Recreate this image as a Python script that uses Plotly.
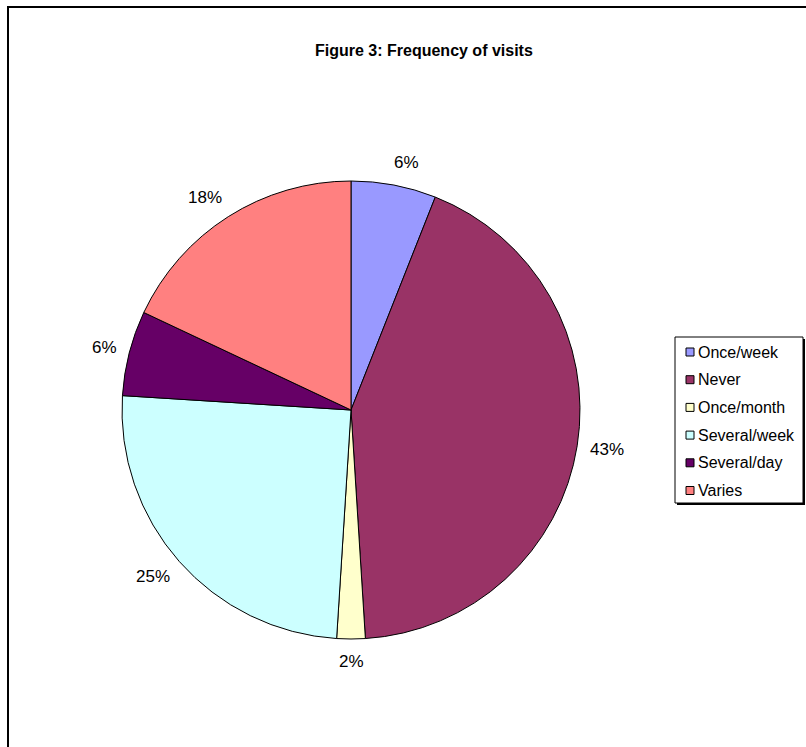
import math
import plotly.graph_objects as go

# Survey results: how often respondents visit
categories = ["Once/week", "Never", "Once/month", "Several/week", "Several/day", "Varies"]
shares = [6, 43, 2, 25, 6, 18]  # percent
slice_colors = ["#9999FF", "#993366", "#FFFFCC", "#CCFFFF", "#660066", "#FF8080"]
title_text = "Figure 3: Frequency of visits"

W, H = 806, 747
FONT = "Liberation Sans, Arial, sans-serif"
LABEL_SIZE = 17
LEGEND_SIZE = 16
TITLE_SIZE = 16

# pie geometry in pixels
cx, cy, R = 351, 410, 229


def px(x):
    return x / W


def py(y):
    return 1 - y / H


fig = go.Figure()
fig.add_trace(go.Pie(
    labels=categories,
    values=shares,
    sort=False,
    direction="clockwise",
    rotation=0,
    marker=dict(colors=slice_colors, line=dict(color="black", width=1)),
    textinfo="none",
    hoverinfo="label+percent",
    showlegend=False,
    domain=dict(x=[px(cx - R), px(cx + R)], y=[py(cy + R), py(cy - R)]),
))

annotations = []
shapes = []

# percentage labels just outside each slice: anchored at the slice's mid-angle,
# pushed out horizontally by half the text width on the side it falls
total = sum(shares)
acc = 0.0
for val in shares:
    mid = (acc + val / 2) / total * 2 * math.pi
    acc += val
    txt = f"{round(val / total * 100)}%"
    hw = len(txt) * 0.58 * LABEL_SIZE / 2
    hh = 0.45 * LABEL_SIZE
    gap = 15
    s, c = math.sin(mid), math.cos(mid)
    side = 0 if abs(s) < 0.05 else (1 if s > 0 else -1)
    lx = cx + (R + gap) * s + hw * side
    ly = cy - (R + gap) * c - hh * c
    annotations.append(dict(
        x=px(lx), y=py(ly), xref="paper", yref="paper",
        text=txt, showarrow=False, xanchor="center", yanchor="middle",
        font=dict(family=FONT, size=LABEL_SIZE, color="black"),
    ))

# title
annotations.append(dict(
    x=px(424), y=py(51), xref="paper", yref="paper",
    text=f"<b>{title_text}</b>", showarrow=False, xanchor="center", yanchor="middle",
    font=dict(family=FONT, size=TITLE_SIZE, color="black"),
))

# outer chart frame (continues past the right and bottom edges)
shapes.append(dict(type="rect", xref="paper", yref="paper",
                   x0=px(8), x1=px(W + 60), y0=py(H + 60), y1=py(7),
                   line=dict(color="black", width=2), fillcolor="rgba(0,0,0,0)"))

# legend box with drop shadow
bx0, by0, bx1, by1 = 675, 337, 803, 503
shapes.append(dict(type="rect", xref="paper", yref="paper",
                   x0=px(bx0 + 2), x1=px(bx1 + 2), y0=py(by1 + 2), y1=py(by0 + 2),
                   line=dict(width=0), fillcolor="black", layer="above"))
shapes.append(dict(type="rect", xref="paper", yref="paper",
                   x0=px(bx0), x1=px(bx1), y0=py(by1), y1=py(by0),
                   line=dict(color="black", width=1), fillcolor="white", layer="above"))

row0, step, sw = 352, 27.7, 8
for i, (name, col) in enumerate(zip(categories, slice_colors)):
    yc = row0 + i * step
    shapes.append(dict(type="rect", xref="paper", yref="paper",
                       x0=px(686), x1=px(686 + sw), y0=py(yc + sw / 2), y1=py(yc - sw / 2),
                       line=dict(color="black", width=1), fillcolor=col, layer="above"))
    annotations.append(dict(
        x=px(696), y=py(yc), xref="paper", yref="paper",
        text=name, showarrow=False, xanchor="left", yanchor="middle",
        font=dict(family=FONT, size=LEGEND_SIZE, color="black"),
    ))

fig.update_layout(
    width=W, height=H,
    margin=dict(l=0, r=0, t=0, b=0),
    paper_bgcolor="white",
    plot_bgcolor="white",
    showlegend=False,
    annotations=annotations,
    shapes=shapes,
)

fig.write_html("out.html", config={"displayModeBar": False})
